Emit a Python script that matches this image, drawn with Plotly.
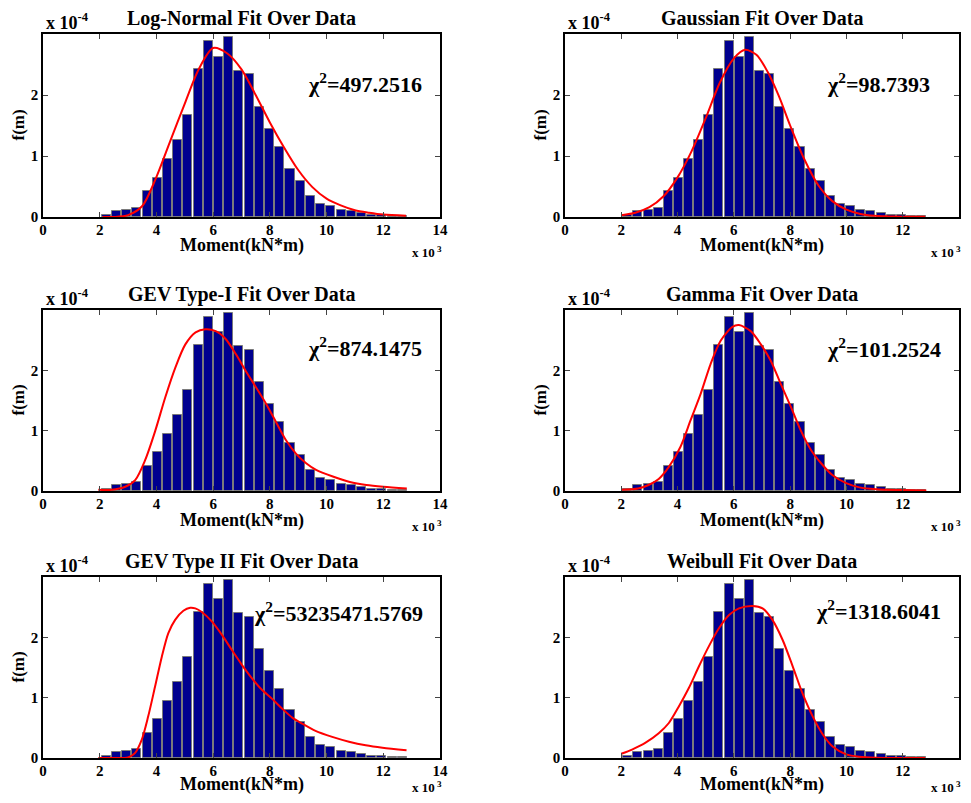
import plotly.graph_objects as go
from plotly.subplots import make_subplots

# histogram of the moment data: x in 10^3 kN*m, f(m) in 10^-4
bin_centers = [2.23, 2.59, 2.95, 3.31, 3.67, 4.03, 4.39, 4.75, 5.11, 5.47,
               5.83, 6.19, 6.55, 6.91, 7.27, 7.63, 7.99, 8.35, 8.71, 9.07,
               9.43, 9.79, 10.15, 10.51, 10.87, 11.23, 11.59, 11.95, 12.31, 12.67]
bin_heights = [0.03, 0.10, 0.11, 0.15, 0.42, 0.64, 0.95, 1.26, 1.68, 2.42,
               2.88, 2.63, 2.95, 2.40, 2.34, 1.80, 1.45, 1.14, 0.79, 0.59,
               0.34, 0.22, 0.18, 0.11, 0.10, 0.07, 0.04, 0.03, 0.02, 0.01]

# fitted pdfs
lognorm_x = [2.1, 2.5, 3.0, 3.5, 3.95, 4.5, 5.0, 5.5, 6.0, 6.5, 7.0, 7.5, 8.0,
             8.5, 9.0, 9.5, 10.0, 10.5, 11.0, 11.5, 12.0, 12.8]
lognorm_y = [0.0, 0.0, 0.03, 0.18, 0.6, 1.26, 1.86, 2.43, 2.77, 2.68, 2.42, 2.0,
             1.55, 1.14, 0.77, 0.49, 0.30, 0.19, 0.11, 0.07, 0.04, 0.02]

gauss_x = [2.0, 2.5, 3.0, 3.5, 4.0, 4.5, 5.0, 5.5, 6.0, 6.4, 6.8, 7.2, 7.6, 8.0,
           8.5, 9.0, 9.5, 10.0, 10.5, 11.0, 11.5, 12.0, 12.8]
gauss_y = [0.03, 0.07, 0.16, 0.34, 0.65, 1.08, 1.62, 2.2, 2.6, 2.74, 2.66, 2.38,
           1.98, 1.5, 0.95, 0.52, 0.26, 0.12, 0.05, 0.02, 0.01, 0.005, 0.003]

gev1_x = [1.95, 2.42, 2.9, 3.25, 3.6, 3.96, 4.31, 4.67, 5.02, 5.38, 5.73, 6.09,
          6.44, 6.8, 7.15, 7.51, 7.86, 8.22, 8.57, 8.92, 9.28, 9.63, 10.22,
          10.82, 11.4, 12.0, 12.83]
gev1_y = [0.02, 0.02, 0.07, 0.18, 0.51, 1.0, 1.55, 2.05, 2.43, 2.63, 2.68, 2.65,
          2.52, 2.27, 1.99, 1.72, 1.45, 1.14, 0.84, 0.62, 0.46, 0.35, 0.24,
          0.15, 0.10, 0.07, 0.04]

gamma_x = [2.0, 2.6, 2.97, 3.33, 3.69, 4.1, 4.46, 4.82, 5.17, 5.53, 5.95, 6.18,
           6.6, 6.96, 7.31, 7.67, 8.03, 8.38, 8.74, 9.1, 9.51, 9.99, 10.46,
           11.06, 12.0, 12.84]
gamma_y = [0.02, 0.04, 0.1, 0.2, 0.4, 0.73, 1.17, 1.61, 2.1, 2.49, 2.72, 2.75,
           2.65, 2.43, 2.16, 1.77, 1.39, 1.0, 0.68, 0.46, 0.26, 0.13, 0.06,
           0.03, 0.015, 0.01]

gev2_x = [1.95, 2.5, 3.0, 3.24, 3.48, 3.71, 3.95, 4.19, 4.42, 4.66, 4.95, 5.19,
          5.37, 5.6, 5.96, 6.31, 6.66, 7.02, 7.37, 7.72, 8.08, 8.43, 8.79,
          9.14, 9.61, 10.2, 10.79, 11.38, 11.97, 12.82]
gev2_y = [0.0, 0.0, 0.01, 0.08, 0.3, 0.69, 1.18, 1.68, 2.07, 2.29, 2.44, 2.49,
          2.48, 2.42, 2.26, 2.04, 1.79, 1.54, 1.32, 1.13, 0.98, 0.82, 0.67,
          0.57, 0.45, 0.35, 0.27, 0.21, 0.17, 0.13]

weib_x = [2.0, 2.38, 2.85, 3.33, 3.69, 4.04, 4.4, 4.76, 5.11, 5.47, 5.83, 6.18,
          6.66, 7.02, 7.37, 7.73, 8.09, 8.44, 8.8, 9.16, 9.51, 9.99, 10.46,
          11.06, 12.0, 12.8]
weib_y = [0.07, 0.14, 0.25, 0.41, 0.58, 0.85, 1.16, 1.52, 1.85, 2.15, 2.37, 2.48,
          2.52, 2.48, 2.29, 1.96, 1.52, 1.07, 0.69, 0.39, 0.19, 0.06, 0.02,
          0.005, 0.0, 0.0]

titles = ['Log-Normal Fit Over Data', 'Gaussian Fit Over Data',
          'GEV Type-I Fit Over Data', 'Gamma Fit Over Data',
          'GEV Type II Fit Over Data', 'Weibull Fit Over Data']
chi2 = ['497.2516', '98.7393', '874.1475', '101.2524', '53235471.5769', '1318.6041']
chi_pos = [(9.3, 2.2), (9.27, 2.2), (9.3, 2.39), (9.27, 2.37), (7.4, 2.42), (8.9, 2.45)]
curves = [(lognorm_x, lognorm_y), (gauss_x, gauss_y), (gev1_x, gev1_y),
          (gamma_x, gamma_y), (gev2_x, gev2_y), (weib_x, weib_y)]

# page body has an 8px margin, so the figure is a bit smaller than the window
OFF = 8
W, H = 971 - 2 * OFF, 803 - 2 * OFF
font = 'Liberation Serif'
fig = make_subplots(rows=3, cols=2)

# axes box positions in window pixels (left, right) and (top, bottom)
xdoms = [(43, 440), (565, 959)]
ydoms = [(34, 217), (310, 491), (577, 758)]


def note(text, xr, yr, x, y, size, **kw):
    fig.add_annotation(text=text, xref=xr, yref=yr, x=x, y=y, showarrow=False,
                       borderpad=0, font=dict(family=font, size=size, color='black'), **kw)


for i in range(6):
    r, c = i // 2 + 1, i % 2 + 1
    fig.add_trace(go.Bar(x=bin_centers, y=bin_heights, width=0.32,
                         marker=dict(color='#00008F', line=dict(color='#7a7a7a', width=1)),
                         showlegend=False), row=r, col=c)
    cx, cy = curves[i]
    fig.add_trace(go.Scatter(x=cx, y=cy, mode='lines',
                             line=dict(color='red', width=2, shape='spline', smoothing=0.8),
                             showlegend=False), row=r, col=c)

    n = '' if i == 0 else str(i + 1)
    xd, yd = xdoms[c - 1], ydoms[r - 1]
    axis_style = dict(ticks='inside', ticklen=5, mirror='ticks', showline=True,
                      linecolor='black', linewidth=1.5, showgrid=False, zeroline=False,
                      automargin=False,
                      tickfont=dict(family=font, size=15, color='black', weight='bold'))
    fig.layout['xaxis' + n].update(
        domain=[(xd[0] - OFF) / W, (xd[1] - OFF) / W], range=[0, 14],
        tickvals=list(range(0, 15, 2)), ticklabelstandoff=-2, **axis_style)
    fig.layout['yaxis' + n].update(
        domain=[1 - (yd[1] - OFF) / H, 1 - (yd[0] - OFF) / H], range=[0, 3],
        tickvals=[0, 1, 2], **axis_style)

    xr, yr = 'x' + n + ' domain', 'y' + n + ' domain'
    note('<b>' + titles[i] + '</b>', xr, yr, 0.5, 1, 20,
         yshift=16, xanchor='center', yanchor='middle')
    note('<b>x 10<sup>-4</sup></b>', xr, yr, 0, 1, 18,
         xshift=2, xanchor='left', yanchor='bottom')
    note('<b>Moment(kN*m)</b>', xr, yr, 0.5, 0, 18,
         yshift=-29 if r < 3 else -26, xanchor='center', yanchor='middle')
    note('<b>x 10<sup> 3</sup></b>', xr, yr, 1, 0, 13,
         xshift=3, yshift=-35 if r < 3 else -29, xanchor='right', yanchor='middle')
    if i != 5:
        note('<b>f(m)</b>', xr, yr, 0, 0.5, 17,
             xshift=-25, xanchor='center', yanchor='middle', textangle=-90)
    note('<b>\u03c7<sup>2</sup>=' + chi2[i] + '</b>', 'x' + n, 'y' + n,
         chi_pos[i][0], chi_pos[i][1], 22, xanchor='left', yanchor='middle')

fig.update_layout(width=W, height=H, margin=dict(l=0, r=0, t=0, b=0, pad=0),
                  paper_bgcolor='white', plot_bgcolor='white', bargap=0,
                  font=dict(family=font, color='black'))
fig.write_html("out.html")
